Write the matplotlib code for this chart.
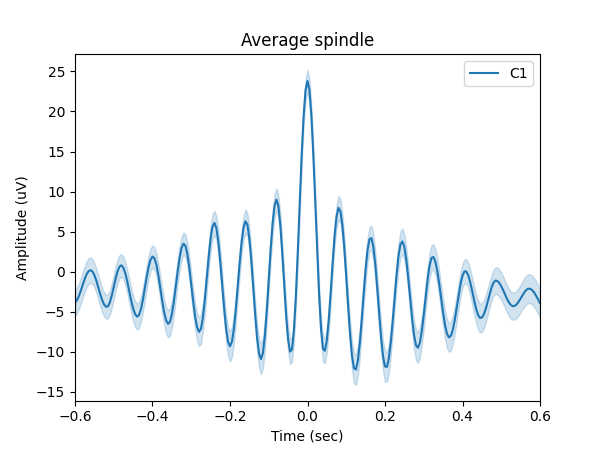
import numpy as np
import matplotlib
matplotlib.use("Agg")
import matplotlib.pyplot as plt

# Average spindle amplitude (uV), 5 ms steps from -0.6 s to 0.6 s
amplitude = [
    -3.85, -3.56, -3.05, -2.37, -1.64, -0.91, -0.31, 0.06, 0.2, 0.04,
    -0.42, -1.10, -1.93, -2.78, -3.53, -4.09, -4.37, -4.32, -3.82, -2.97,
    -1.91, -0.83, 0.07, 0.65, 0.8, 0.48, -0.22, -1.23, -2.4, -3.57,
    -4.58, -5.28, -5.6, -5.42, -4.70, -3.55, -2.14, -0.69, 0.59, 1.49,
    1.9, 1.69, 0.89, -0.39, -1.97, -3.6, -5.03, -6.04, -6.5, -6.26,
    -5.3, -3.77, -1.89, 0.05, 1.75, 2.96, 3.5, 3.23, 2.18, 0.5,
    -1.57, -3.7, -5.58, -6.9, -7.5, -7.14, -5.75, -3.52, -0.83, 1.87,
    4.16, 5.65, 6.1, 5.41, 3.68, 1.17, -1.75, -4.65, -7.1, -8.73,
    -9.3, -8.73, -7.12, -4.68, -1.8, 1.14, 3.7, 5.49, 6.3, 5.85,
    4.14, 1.39, -1.96, -5.35, -8.28, -10.21, -10.9, -10.14, -7.98, -4.76,
    -0.95, 2.86, 6.08, 8.24, 9.0, 8.15, 5.76, 2.26, -1.76, -5.55,
    -8.48, -9.97, -9.7, -7.29, -3.02, 2.54, 8.71, 14.6, 19.44, 22.68,
    23.8, 22.69, 19.47, 14.62, 8.76, 2.61, -2.94, -7.19, -9.6, -9.87,
    -8.53, -5.92, -2.49, 1.2, 4.54, 6.92, 7.97, 7.55, 5.78, 2.93,
    -0.63, -4.41, -7.87, -10.53, -12.04, -12.2, -11.08, -8.88, -5.94, -2.7,
    0.33, 2.71, 4.07, 4.2, 3.08, 0.88, -2.06, -5.27, -8.25, -10.56,
    -11.82, -11.87, -10.78, -8.76, -6.07, -3.1, -0.27, 2.03, 3.44, 3.78,
    3.08, 1.47, -0.8, -3.37, -5.87, -7.91, -9.17, -9.48, -8.85, -7.4,
    -5.39, -3.12, -0.95, 0.75, 1.73, 1.84, 1.25, 0.08, -1.51, -3.34,
    -5.12, -6.66, -7.73, -8.19, -8.0, -7.25, -6.04, -4.53, -2.95, -1.54,
    -0.49, 0.05, 0.02, -0.46, -1.31, -2.39, -3.54, -4.58, -5.37, -5.76,
    -5.73, -5.33, -4.63, -3.73, -2.8, -1.96, -1.37, -1.1, -1.16, -1.41,
    -1.81, -2.31, -2.87, -3.4, -3.85, -4.16, -4.3, -4.25, -4.05, -3.73,
    -3.33, -2.91, -2.54, -2.25, -2.11, -2.13, -2.3, -2.6, -3.0, -3.45,
    -3.9,
]

# Half-width of the confidence band (uV), same sampling
ci_half = [
    1.6, 1.6, 1.6, 1.6, 1.6, 1.6, 1.6, 1.6, 1.6, 1.55,
    1.5, 1.5, 1.5, 1.5, 1.5, 1.5, 1.5, 1.5, 1.5, 1.5,
    1.5, 1.5, 1.5, 1.45, 1.4, 1.4, 1.4, 1.45, 1.5, 1.55,
    1.6, 1.6, 1.6, 1.6, 1.6, 1.55, 1.5, 1.45, 1.4, 1.4,
    1.4, 1.4, 1.4, 1.45, 1.5, 1.55, 1.6, 1.65, 1.7, 1.7,
    1.7, 1.65, 1.6, 1.55, 1.5, 1.45, 1.4, 1.4, 1.4, 1.45,
    1.5, 1.55, 1.6, 1.7, 1.8, 1.8, 1.8, 1.75, 1.7, 1.65,
    1.6, 1.55, 1.5, 1.5, 1.5, 1.55, 1.6, 1.65, 1.7, 1.8,
    1.9, 1.85, 1.8, 1.7, 1.6, 1.55, 1.5, 1.5, 1.5, 1.45,
    1.4, 1.45, 1.5, 1.6, 1.7, 1.8, 1.9, 1.9, 1.9, 1.75,
    1.6, 1.55, 1.5, 1.45, 1.4, 1.4, 1.4, 1.45, 1.5, 1.55,
    1.6, 1.55, 1.5, 1.45, 1.4, 1.4, 1.4, 1.35, 1.3, 1.35,
    1.4, 1.35, 1.3, 1.35, 1.4, 1.4, 1.4, 1.5, 1.6, 1.55,
    1.5, 1.45, 1.4, 1.4, 1.4, 1.45, 1.5, 1.5, 1.5, 1.5,
    1.5, 1.6, 1.7, 1.8, 1.9, 1.9, 1.9, 1.8, 1.7, 1.65,
    1.6, 1.55, 1.5, 1.55, 1.6, 1.65, 1.7, 1.8, 1.9, 1.9,
    1.9, 1.85, 1.8, 1.7, 1.6, 1.6, 1.6, 1.6, 1.6, 1.6,
    1.6, 1.6, 1.6, 1.65, 1.7, 1.8, 1.9, 1.9, 1.9, 1.8,
    1.7, 1.65, 1.6, 1.6, 1.6, 1.6, 1.6, 1.6, 1.6, 1.65,
    1.7, 1.75, 1.8, 1.8, 1.8, 1.75, 1.7, 1.65, 1.6, 1.55,
    1.5, 1.5, 1.5, 1.55, 1.6, 1.65, 1.7, 1.75, 1.8, 1.8,
    1.8, 1.75, 1.7, 1.65, 1.6, 1.6, 1.6, 1.65, 1.7, 1.7,
    1.7, 1.7, 1.7, 1.7, 1.7, 1.7, 1.7, 1.7, 1.7, 1.7,
    1.7, 1.75, 1.8, 1.8, 1.8, 1.8, 1.8, 1.8, 1.8, 1.8,
    1.8,
]

channel = "C1"
t_start, t_stop = -0.6, 0.6

amp = np.array(amplitude)
ci = np.array(ci_half)
assert len(amp) == len(ci) == 241
times = np.linspace(t_start, t_stop, len(amp))

fig, ax = plt.subplots(figsize=(6, 4.5), dpi=100)
ax.fill_between(times, amp - ci, amp + ci, color="C0", alpha=0.2, linewidth=1)
ax.plot(times, amp, color="C0", linewidth=1.5, label=channel)
ax.set_xlim(t_start, t_stop)
ax.set_title("Average spindle")
ax.set_xlabel("Time (sec)")
ax.set_ylabel("Amplitude (uV)")
ax.legend(loc="upper right")
fig.savefig("out.png", dpi=100)
